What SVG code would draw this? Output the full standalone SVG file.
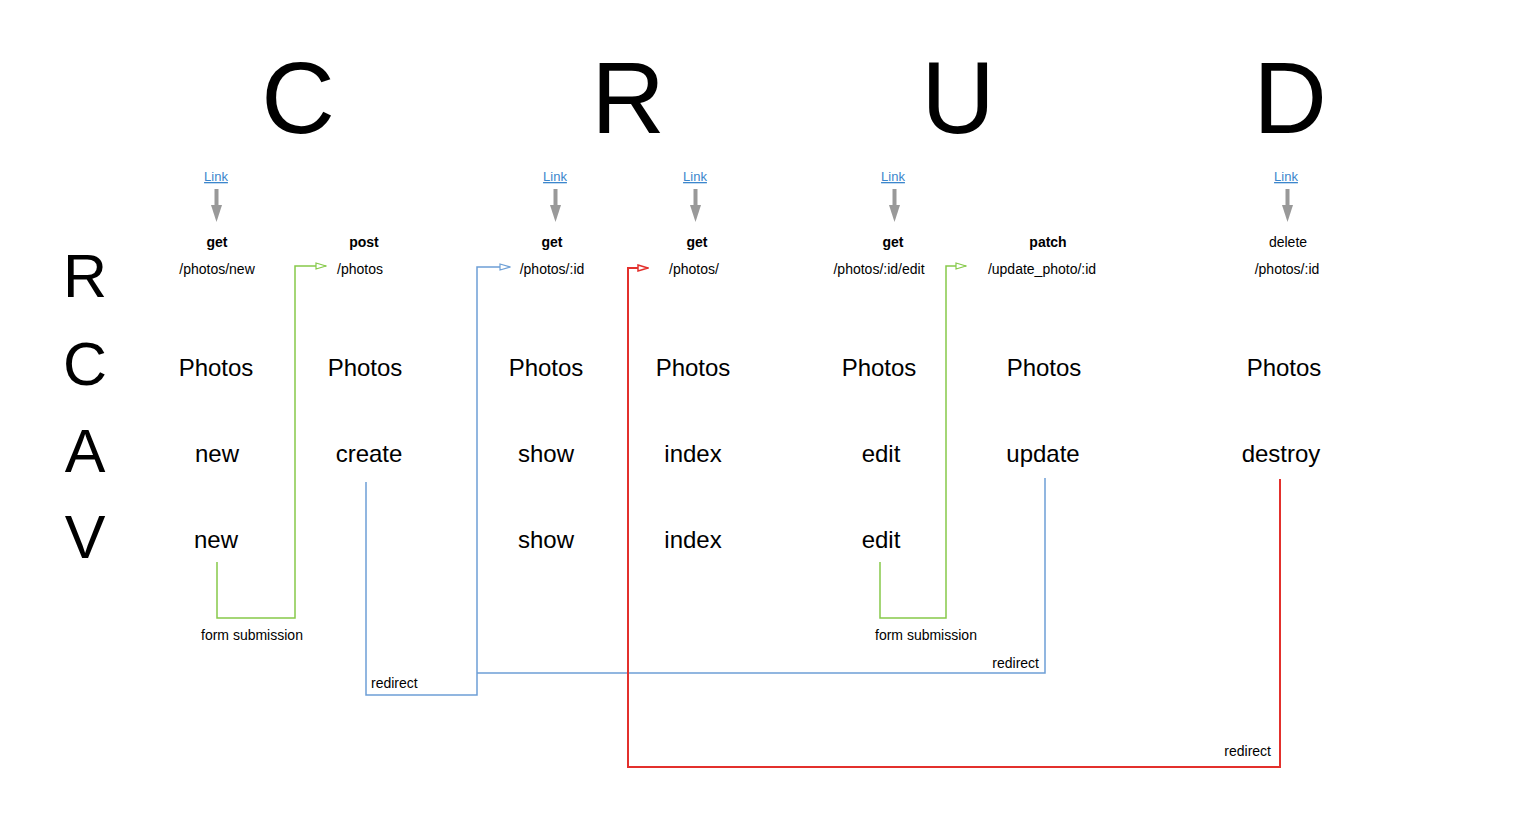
<svg xmlns="http://www.w3.org/2000/svg" width="1523" height="814" viewBox="0 0 1523 814">
<style>
text{font-family:"Liberation Sans",Arial,sans-serif;fill:#000}
.big{font-size:102px;text-anchor:middle}
.side{font-size:61px;text-anchor:middle}
.link{font-size:13px;fill:#3b86cc;text-decoration:underline;text-anchor:middle}
.verb{font-size:14px;font-weight:bold;text-anchor:middle}
.verbn{font-size:14px;text-anchor:middle}
.path{font-size:14px;text-anchor:middle}
.lg{font-size:24px;text-anchor:middle}
.sm{font-size:14px}
.conn{fill:none;stroke-width:1.5}
.g{stroke:#86c94a}
.b{stroke:#6d9fd6}
.r{stroke:#e3302c;stroke-width:2}
</style>
<defs>
<marker id="ag" markerWidth="12" markerHeight="8" refX="11" refY="4" orient="auto" markerUnits="userSpaceOnUse"><path d="M1,1 L11,4 L1,7 Z" fill="#fff" stroke="#86c94a" stroke-width="1.2"/></marker>
<marker id="ab" markerWidth="12" markerHeight="8" refX="11" refY="4" orient="auto" markerUnits="userSpaceOnUse"><path d="M1,1 L11,4 L1,7 Z" fill="#fff" stroke="#6d9fd6" stroke-width="1.2"/></marker>
<marker id="ar" markerWidth="12" markerHeight="8" refX="11" refY="4" orient="auto" markerUnits="userSpaceOnUse"><path d="M1,1 L11,4 L1,7 Z" fill="#fff" stroke="#e3302c" stroke-width="1.5"/></marker>
</defs>
<rect width="1523" height="814" fill="#fff"/>
<g id="headers">
<text class="big" x="298" y="133">C</text>
<text class="big" x="628" y="133">R</text>
<text class="big" x="958" y="133">U</text>
<text class="big" x="1290" y="133">D</text>
</g>
<g id="rows">
<text class="side" x="85" y="297">R</text>
<text class="side" x="85" y="385">C</text>
<text class="side" x="85" y="472">A</text>
<text class="side" x="85" y="558">V</text>
</g>
<g id="links">
<text class="link" x="216" y="181">Link</text>
<text class="link" x="555" y="181">Link</text>
<text class="link" x="695" y="181">Link</text>
<text class="link" x="893" y="181">Link</text>
<text class="link" x="1286" y="181">Link</text>
<g fill="#999">
<rect x="214.5" y="189" width="4" height="17"/><path d="M211,205 L222,205 L216.5,222 Z"/>
<rect x="553.5" y="189" width="4" height="17"/><path d="M550,205 L561,205 L555.5,222 Z"/>
<rect x="693.5" y="189" width="4" height="17"/><path d="M690,205 L701,205 L695.5,222 Z"/>
<rect x="892.5" y="189" width="4" height="17"/><path d="M889,205 L900,205 L894.5,222 Z"/>
<rect x="1285.5" y="189" width="4" height="17"/><path d="M1282,205 L1293,205 L1287.5,222 Z"/>
</g>
</g>
<g id="col-new">
<text class="verb" x="217" y="247">get</text>
<text class="path" x="217" y="274">/photos/new</text>
<text class="lg" x="216" y="376">Photos</text>
<text class="lg" x="217" y="462">new</text>
<text class="lg" x="216" y="548">new</text>
</g>
<g id="col-create">
<text class="verb" x="364" y="247">post</text>
<text class="path" x="360" y="274">/photos</text>
<text class="lg" x="365" y="376">Photos</text>
<text class="lg" x="369" y="462">create</text>
</g>
<g id="col-show">
<text class="verb" x="552" y="247">get</text>
<text class="path" x="552" y="274">/photos/:id</text>
<text class="lg" x="546" y="376">Photos</text>
<text class="lg" x="546" y="462">show</text>
<text class="lg" x="546" y="548">show</text>
</g>
<g id="col-index">
<text class="verb" x="697" y="247">get</text>
<text class="path" x="694" y="274">/photos/</text>
<text class="lg" x="693" y="376">Photos</text>
<text class="lg" x="693" y="462">index</text>
<text class="lg" x="693" y="548">index</text>
</g>
<g id="col-edit">
<text class="verb" x="893" y="247">get</text>
<text class="path" x="879" y="274">/photos/:id/edit</text>
<text class="lg" x="879" y="376">Photos</text>
<text class="lg" x="881" y="462">edit</text>
<text class="lg" x="881" y="548">edit</text>
</g>
<g id="col-update">
<text class="verb" x="1048" y="247">patch</text>
<text class="path" x="1042" y="274">/update_photo/:id</text>
<text class="lg" x="1044" y="376">Photos</text>
<text class="lg" x="1043" y="462">update</text>
</g>
<g id="col-destroy">
<text class="verbn" x="1288" y="247">delete</text>
<text class="path" x="1287" y="274">/photos/:id</text>
<text class="lg" x="1284" y="376">Photos</text>
<text class="lg" x="1281" y="462">destroy</text>
</g>
<g id="connectors">
<path class="conn g" d="M217,562 V618 H295 V266 H326" marker-end="url(#ag)"/>
<path class="conn g" d="M880,562 V618 H946 V266 H966" marker-end="url(#ag)"/>
<path class="conn b" d="M366,482 V695 H477 V267 H510" marker-end="url(#ab)"/>
<path class="conn b" d="M1045,478 V673 H477"/>
<path class="conn r" d="M1280,479 V767 H628 V268 H648" marker-end="url(#ar)"/>
<text class="sm" x="201" y="640">form submission</text>
<text class="sm" x="875" y="640">form submission</text>
<text class="sm" x="371" y="688">redirect</text>
<text class="sm" x="1039" y="668" text-anchor="end">redirect</text>
<text class="sm" x="1271" y="756" text-anchor="end">redirect</text>
</g>
</svg>
